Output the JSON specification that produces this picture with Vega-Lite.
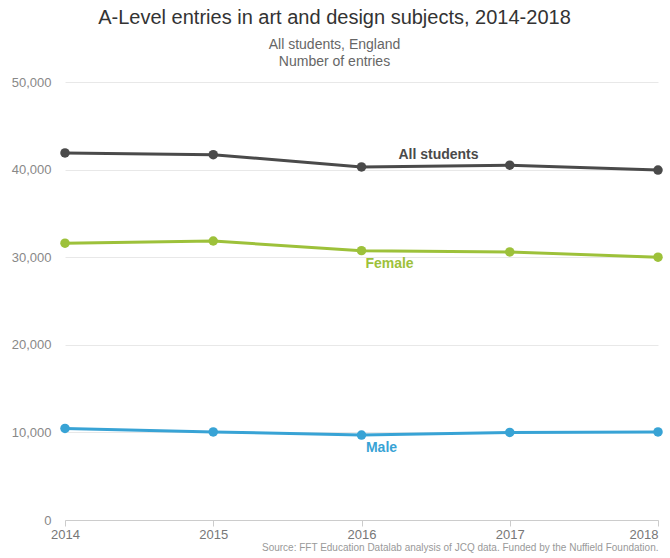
{
  "$schema": "https://vega.github.io/schema/vega-lite/v6.json",
  "autosize": "none",
  "width": 593,
  "height": 438,
  "padding": {"left": 65, "top": 82, "right": 12, "bottom": 38},
  "background": "white",
  "title": {
    "text": "A-Level entries in art and design subjects, 2014-2018",
    "subtitle": ["All students, England", "Number of entries"],
    "anchor": "middle",
    "dx": -27,
    "offset": 7,
    "font": "Liberation Sans",
    "fontSize": 20,
    "fontWeight": "normal",
    "color": "#333333",
    "subtitleFont": "Liberation Sans",
    "subtitleFontSize": 14,
    "subtitleLineHeight": 17,
    "subtitleColor": "#666666",
    "subtitlePadding": 10
  },
  "config": {
    "view": {"stroke": null},
    "axis": {"labelFont": "Liberation Sans", "titleFont": "Liberation Sans"}
  },
  "data": {
    "values": [
      {"year": 2014, "series": "All students", "entries": 41900},
      {"year": 2015, "series": "All students", "entries": 41700},
      {"year": 2016, "series": "All students", "entries": 40300},
      {"year": 2017, "series": "All students", "entries": 40500},
      {"year": 2018, "series": "All students", "entries": 39950},
      {"year": 2014, "series": "Female", "entries": 31600},
      {"year": 2015, "series": "Female", "entries": 31850},
      {"year": 2016, "series": "Female", "entries": 30750},
      {"year": 2017, "series": "Female", "entries": 30600},
      {"year": 2018, "series": "Female", "entries": 30000},
      {"year": 2014, "series": "Male", "entries": 10450},
      {"year": 2015, "series": "Male", "entries": 10050},
      {"year": 2016, "series": "Male", "entries": 9700},
      {"year": 2017, "series": "Male", "entries": 10000},
      {"year": 2018, "series": "Male", "entries": 10050}
    ]
  },
  "encoding": {
    "x": {
      "field": "year", "type": "quantitative",
      "scale": {"domain": [2014, 2018], "nice": false, "zero": false},
      "axis": {
        "values": [2014, 2015, 2016, 2017, 2018], "format": "d",
        "grid": false, "domainColor": "#cccccc", "tickColor": "#cccccc", "tickSize": 6,
        "labelColor": "#777777", "labelFontSize": 13, "labelPadding": 2,
        "labelFlush": false,
        "labelAlign": {"condition": {"test": "datum.value == 2018", "value": "right"}, "value": "center"},
        "title": "Source: FFT Education Datalab analysis of JCQ data. Funded by the Nuffield Foundation.",
        "titleAnchor": "end", "titleFontSize": 10, "titleFontWeight": "normal",
        "titleColor": "#999999", "titlePadding": 1
      }
    },
    "y": {
      "field": "entries", "type": "quantitative",
      "scale": {"domain": [0, 50000], "nice": false},
      "axis": {
        "values": [0, 10000, 20000, 30000, 40000, 50000], "format": ",d",
        "title": null, "domain": false, "ticks": false,
        "gridColor": "#e8e8e8", "gridWidth": 1,
        "labelColor": "#888888", "labelFontSize": 13, "labelPadding": 14
      }
    },
    "color": {
      "field": "series", "type": "nominal",
      "scale": {"domain": ["All students", "Female", "Male"], "range": ["#4a4a4a", "#9dc13a", "#38a3d5"]},
      "legend": null
    }
  },
  "layer": [
    {"mark": {"type": "line", "strokeWidth": 3}},
    {"mark": {"type": "point", "filled": true, "size": 90, "opacity": 1}},
    {
      "transform": [{"filter": "datum.year == 2016 && datum.series == 'All students'"}],
      "mark": {"type": "text", "dx": 77, "dy": -12, "fontSize": 14, "fontWeight": "bold", "font": "Liberation Sans"},
      "encoding": {"text": {"field": "series"}}
    },
    {
      "transform": [{"filter": "datum.year == 2016 && datum.series == 'Female'"}],
      "mark": {"type": "text", "dx": 28, "dy": 13, "fontSize": 14, "fontWeight": "bold", "font": "Liberation Sans"},
      "encoding": {"text": {"field": "series"}}
    },
    {
      "transform": [{"filter": "datum.year == 2016 && datum.series == 'Male'"}],
      "mark": {"type": "text", "dx": 20, "dy": 13, "fontSize": 14, "fontWeight": "bold", "font": "Liberation Sans"},
      "encoding": {"text": {"field": "series"}}
    }
  ]
}
